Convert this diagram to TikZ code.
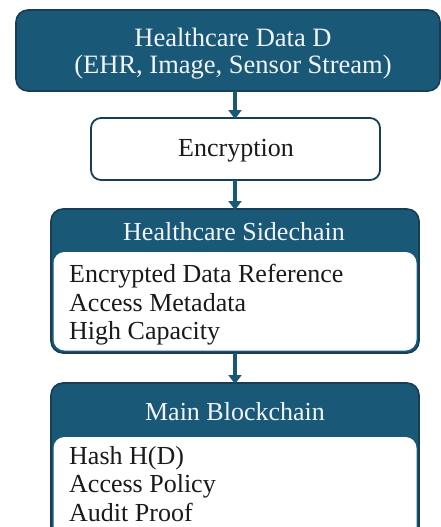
\documentclass[tikz,border=0pt]{standalone}
\usepackage{fontspec}
\setmainfont{Liberation Serif}
\usetikzlibrary{arrows.meta}
\definecolor{hcblue}{HTML}{1A5878}
\definecolor{hcedge}{HTML}{163F55}
\definecolor{hctext}{HTML}{1A1A1A}
\tikzset{
  headbox/.style={draw=hcedge, line width=1.6pt, fill=hcblue, rounded corners=12pt},
  plainbox/.style={draw=hcedge, line width=1.8pt, fill=white, rounded corners=10pt},
  bodypanel/.style={fill=white, rounded corners=11pt},
  headtext/.style={text=white!94!hcblue, font=\fontsize{26}{27}\selectfont, align=center},
  bodytext/.style={text=hctext, font=\fontsize{26}{28.5}\selectfont, align=left, anchor=north west, inner sep=0pt},
  flow/.style={draw=hcblue, line width=3.6pt, -{Triangle[width=13pt,length=9pt]}, shorten >=-1pt},
}
\begin{document}
\begin{tikzpicture}[x=1pt,y=-1pt]
\useasboundingbox (0,0) rectangle (441,527);
\clip (0,0) rectangle (441,527);

% source data block
\draw[headbox] (16,10) rectangle (440,91);
\node[headtext, font=\fontsize{26.5}{27}\selectfont] (data) at (233,53.5) {Healthcare Data D\\(EHR, Image, Sensor Stream)};
\coordinate (dataS) at (235,91);

% encryption step
\draw[plainbox] (91,118) rectangle (380,180);
\node[text=hctext, font=\fontsize{26}{28}\selectfont] (enc) at (236,151) {Encryption};
\coordinate (encN) at (235,118);
\coordinate (encS) at (235,180);

% sidechain block
\draw[headbox] (51,209) rectangle (419,353);
\fill[bodypanel] (53.5,252) rectangle (416.5,350.5);
\node[headtext] (side) at (234,232) {Healthcare Sidechain};
\node[bodytext] (sidebody) at (69,264) {Encrypted Data Reference\\Access Metadata\\High Capacity};
\coordinate (sideN) at (235,209);
\coordinate (sideS) at (235,353);

% main chain block
\draw[headbox] (51,383) rectangle (419,560);
\fill[bodypanel] (53.5,437) rectangle (416.5,557);
\node[headtext] (main) at (235,412) {Main Blockchain};
\node[bodytext] (mainbody) at (69,446) {Hash H(D)\\Access Policy\\Audit Proof};
\coordinate (mainN) at (235,383);

% connectors
\draw[flow] (dataS) -- (encN);
\draw[flow] (encS) -- (sideN);
\draw[flow] (sideS) -- (mainN);
\end{tikzpicture}
\end{document}
